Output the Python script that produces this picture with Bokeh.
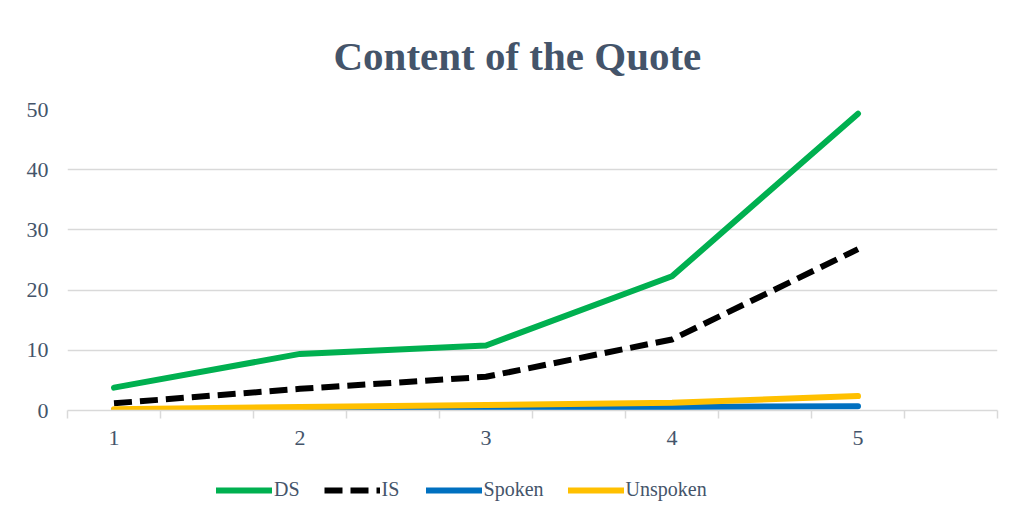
from bokeh.plotting import figure
from bokeh.models import FixedTicker, Legend, LegendItem, Range1d
from bokeh.layouts import column
from bokeh.embed import file_html
from bokeh.resources import INLINE

categories = [1, 2, 3, 4, 5]
ds = [3.8, 9.4, 10.8, 22.3, 49.3]
is_ = [1.2, 3.6, 5.6, 11.8, 26.8]
spoken = [0.1, 0.3, 0.2, 0.6, 0.7]
unspoken = [0.2, 0.6, 0.9, 1.3, 2.4]
y_ticks = [0, 10, 20, 30, 40, 50]
x_minor = [0.75 + 0.5 * k for k in range(11)]
series_names = ["DS", "IS", "Spoken", "Unspoken"]

TXT = "#44546A"
GRID = "#D9D9D9"
FONT = "Liberation Serif"
COLORS = ["#00B050", "#000000", "#0070C0", "#FFC000"]
DASHES = ["solid", "18 8", "solid", "solid"]
CAPS = ["round", "butt", "round", "round"]
W = 6

p = figure(width=1015, height=460, output_backend="svg", toolbar_location=None,
           x_range=Range1d(0.75, 5.75), y_range=Range1d(0, 50),
           min_border_left=67, min_border_right=18, min_border_top=108,
           min_border_bottom=50)

p.title.text = "Content of the Quote"
p.title.align = "left"
p.title.offset = 266
p.title.text_font = FONT
p.title.text_font_size = "41px"
p.title.text_font_style = "bold"
p.title.text_color = TXT
p.title.standoff = 61

p.outline_line_color = None
p.background_fill_color = "white"
p.border_fill_color = "white"

p.xgrid.grid_line_color = None
p.ygrid.grid_line_color = GRID
p.ygrid.grid_line_width = 1.5
p.yaxis.ticker = FixedTicker(ticks=y_ticks)
p.yaxis.axis_line_color = None
p.yaxis.major_tick_line_color = None
p.yaxis.minor_tick_line_color = None
p.yaxis.major_label_text_font = FONT
p.yaxis.major_label_text_font_size = "22px"
p.yaxis.major_label_text_color = TXT
p.yaxis.major_label_standoff = 13

p.xaxis.ticker = FixedTicker(ticks=categories, minor_ticks=x_minor)
p.xaxis.axis_line_color = GRID
p.xaxis.axis_line_width = 1.5
p.xaxis.major_tick_line_color = None
p.xaxis.minor_tick_line_color = GRID
p.xaxis.minor_tick_line_width = 1.5
p.xaxis.minor_tick_in = 0
p.xaxis.minor_tick_out = 8
p.xaxis.major_tick_in = 0
p.xaxis.major_tick_out = 8
p.xaxis.major_label_text_font = FONT
p.xaxis.major_label_text_font_size = "22px"
p.xaxis.major_label_text_color = TXT
p.xaxis.major_label_standoff = 12

all_values = [ds, is_, spoken, unspoken]
for vals, c, d, cap in zip(all_values, COLORS, DASHES, CAPS):
    p.line(categories, vals, line_color=c, line_width=W, line_dash=d,
           line_cap=cap, line_join="round")

# legend strip: same series, drawn outside its (hidden) ranges so only the legend shows
leg = figure(width=1015, height=56, output_backend="svg", toolbar_location=None,
             x_range=Range1d(100, 101), y_range=Range1d(100, 101),
             min_border=0, x_axis_type=None, y_axis_type=None)
leg.grid.visible = False
leg.outline_line_color = None
leg.background_fill_color = "white"
leg.border_fill_color = "white"
items = []
for name, vals, c, d, cap in zip(series_names, all_values, COLORS, DASHES, CAPS):
    r = leg.line(categories, vals, line_color=c, line_width=W, line_dash=d,
                 line_cap=cap, line_join="round")
    items.append(LegendItem(label=name, renderers=[r]))

legend = Legend(items=items, orientation="horizontal", location=(149, 15),
                border_line_color=None, background_fill_alpha=0,
                label_text_font=FONT, label_text_font_size="20px",
                label_text_color=TXT, glyph_width=56, label_standoff=2,
                spacing=24, padding=0, margin=0)
leg.add_layout(legend)

layout = column(p, leg, spacing=0)
open("out.html", "w").write(file_html(layout, INLINE))
